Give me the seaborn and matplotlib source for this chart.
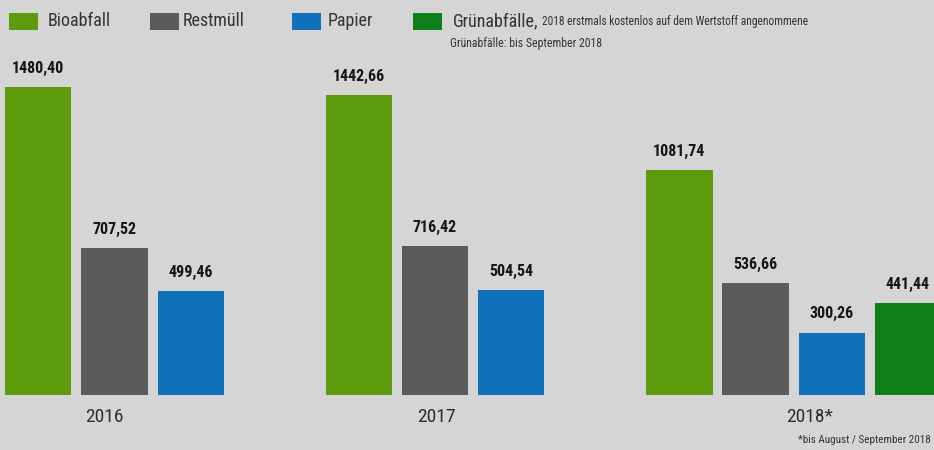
import matplotlib
matplotlib.use("Agg")
import matplotlib.pyplot as plt
from matplotlib import font_manager
from matplotlib.patches import Rectangle
import seaborn as sns
import pandas as pd

# ---------------- data ----------------
years = ["2016", "2017", "2018*"]
categories = ["Bioabfall", "Restmüll", "Papier", "Grünabfälle"]
bioabfall = [1480.40, 1442.66, 1081.74]
restmuell = [707.52, 716.42, 536.66]
papier = [499.46, 504.54, 300.26]
gruenabfaelle = [None, None, 441.44]
colors = ["#5e9b0c", "#5b5b5b", "#0f72bb", "#0f7f1a"]

rows = []
for series, cat in zip([bioabfall, restmuell, papier, gruenabfaelle], categories):
    for y, v in zip(years, series):
        if v is not None:
            rows.append({"Jahr": y, "Art": cat, "Menge": v})
df = pd.DataFrame(rows)

# ---------------- fonts ----------------
names = {f.name for f in font_manager.fontManager.ttflist}
cond = None
for cand in ["Roboto Condensed", "Liberation Sans Narrow", "Open Sans Condensed", "DejaVu Sans Condensed"]:
    if cand in names:
        cond = cand
        break
if cond is None:
    cond = "DejaVu Sans"
stretch = "condensed"

sns.set_theme(style="white")
plt.rcParams["font.family"] = [cond, "DejaVu Sans"]

BG = "#d5d5d5"
W, H = 934, 450
fig = plt.figure(figsize=(W / 100, H / 100), dpi=100, facecolor=BG)
ax = fig.add_axes([0, 55 / H, 1, 395 / H])
ax.set_facecolor(BG)

sns.barplot(data=df, x="Jahr", y="Menge", hue="Art", order=years,
            hue_order=categories, palette=colors, width=0.95, gap=0.13,
            saturation=1, legend=False, ax=ax, errorbar=None,
            linewidth=0, edgecolor="none")

ax.set_xlim(-0.476, 2.438)
ax.set_ylim(0, 1898)
for s in ax.spines.values():
    s.set_visible(False)
ax.set_yticks([])
ax.set_xlabel("")
ax.set_ylabel("")

for c in ax.containers:
    ax.bar_label(c, fmt=lambda v: f"{v:.2f}".replace(".", ","), padding=8,
                 fontsize=11.5, fontweight="bold", color="#151515",
                 fontstretch=stretch)

ax.set_xticks([-0.15, 0.885, 2.05])
ax.set_xticklabels(years, fontsize=14, color="#2e2e2e", fontstretch=stretch)
ax.tick_params(axis="x", length=0, pad=9)

# ---------------- legend ----------------
def px_rect(x0, y0, x1, y1, color):
    fig.add_artist(Rectangle((x0 / W, 1 - y1 / H), (x1 - x0) / W, (y1 - y0) / H,
                             transform=fig.transFigure, color=color, lw=0))

def px_text(x, y, s, ha="left", **kw):
    fig.text(x / W, 1 - y / H, s, va="center", ha=ha, fontstretch=stretch, **kw)

sq_x = [9, 150, 292, 413]
tx_x = [48, 183, 328, 453]
for i in range(4):
    px_rect(sq_x[i], 13, sq_x[i] + 29, 30, colors[i])
for i in range(3):
    px_text(tx_x[i], 21, categories[i], fontsize=13, color="#333333")
px_text(tx_x[3], 21, "Grünabfälle,", fontsize=13, color="#333333")
px_text(542, 22, "2018 erstmals kostenlos auf dem Wertstoff angenommene",
        fontsize=8.3, color="#333333")
px_text(450, 43, "Grünabfälle: bis September 2018", fontsize=8.5, color="#333333")

px_text(931, 440, "*bis August / September 2018", ha="right", fontsize=8,
        color="#333333")

fig.savefig("out.png", dpi=100, facecolor=BG)
